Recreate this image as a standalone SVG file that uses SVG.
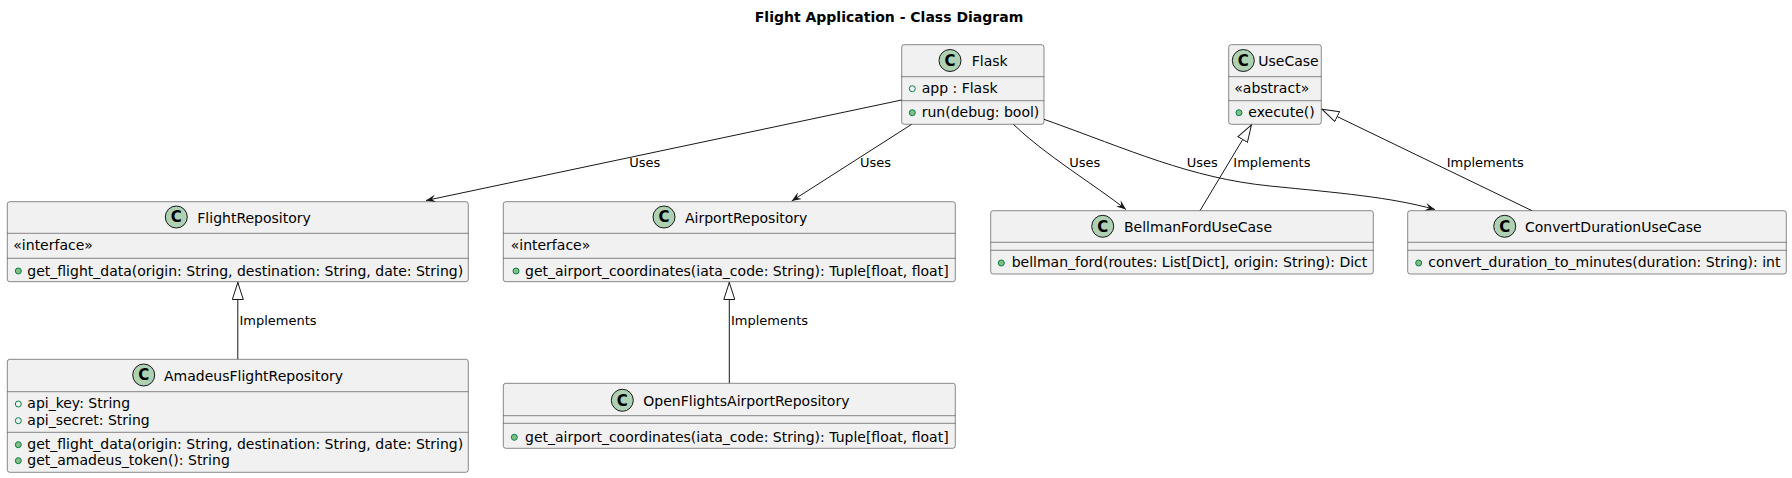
<svg xmlns="http://www.w3.org/2000/svg" width="1792" height="478" viewBox="0 0 1792 478">
<style>
text{font-family:"DejaVu Sans",sans-serif;fill:#000}
.t{font-size:14px;font-weight:bold}
.n{font-size:14px}
.m{font-size:14px}
.l{font-size:13px}
.c{font-size:15px;font-weight:bold;text-anchor:middle}
.box{fill:#F1F1F1;stroke:#181818;stroke-width:0.5}
.div{stroke:#181818;stroke-width:0.5}
.ic{fill:#ADD1B2;stroke:#181818;stroke-width:1}
.pm{fill:#84BE84;stroke:#038048;stroke-width:1}
.pf{fill:none;stroke:#038048;stroke-width:1}
.e{fill:none;stroke:#181818;stroke-width:1}
</style>
<defs>
<marker id="arr" viewBox="0 0 10 8" refX="10" refY="4" markerWidth="10" markerHeight="8" markerUnits="userSpaceOnUse" orient="auto"><path d="M0,0 L10,4 L0,8 L4,4 Z" fill="#181818"/></marker>
<marker id="tri" viewBox="0 0 18 12" refX="18" refY="6" markerWidth="18" markerHeight="12" markerUnits="userSpaceOnUse" orient="auto"><path d="M0.5,0.5 L17.5,6 L0.5,11.5 Z" fill="#FFFFFF" stroke="#181818" stroke-width="1"/></marker>
</defs>
<rect width="1792" height="478" fill="#FFFFFF"/>
<text class="t" x="889" y="22" text-anchor="middle">Flight Application - Class Diagram</text>

<g id="connectors">
<path class="e" d="M901.7,100 L426,200.5" marker-end="url(#arr)"/>
<path class="e" d="M911.7,124.3 L791.7,201" marker-end="url(#arr)"/>
<path class="e" d="M1013.3,124.3 C1045,155 1095,185 1126,209.5" marker-end="url(#arr)"/>
<path class="e" d="M1044,119.3 C1130,150 1190,178 1270,186 C1340,193 1390,197 1435,209.5" marker-end="url(#arr)"/>
<path class="e" d="M1200,210.7 L1251.7,124.5" marker-end="url(#tri)"/>
<path class="e" d="M1532,210.7 L1321.5,109" marker-end="url(#tri)"/>
<path class="e" d="M237.8,359.3 L237.8,282" marker-end="url(#tri)"/>
<path class="e" d="M729.3,383.3 L729.3,282" marker-end="url(#tri)"/>
<text class="l" x="629.3" y="167.3">Uses</text>
<text class="l" x="860" y="167.3">Uses</text>
<text class="l" x="1069.3" y="167.3">Uses</text>
<text class="l" x="1186.7" y="167.3">Uses</text>
<text class="l" x="1233.3" y="167.3">Implements</text>
<text class="l" x="1446.7" y="167.3">Implements</text>
<text class="l" x="239.5" y="325">Implements</text>
<text class="l" x="731" y="325">Implements</text>
</g>

<g id="Flask">
<rect class="box" x="901.7" y="44.7" width="142.3" height="79.6" rx="2.5"/>
<line class="div" x1="901.7" y1="76.7" x2="1044" y2="76.7"/>
<line class="div" x1="901.7" y1="100.7" x2="1044" y2="100.7"/>
<circle class="ic" cx="950" cy="60.5" r="11"/>
<text class="c" x="950" y="65.8">C</text>
<text class="n" x="971.7" y="65.5">Flask</text>
<circle class="pf" cx="912.3" cy="88.7" r="3"/>
<text class="m" x="921.7" y="93">app : Flask</text>
<circle class="pm" cx="912.3" cy="112.7" r="3"/>
<text class="m" x="921.7" y="117.3">run(debug: bool)</text>
</g>

<g id="UseCase">
<rect class="box" x="1228.7" y="44.7" width="92.6" height="79.6" rx="2.5"/>
<line class="div" x1="1228.7" y1="76.7" x2="1321.3" y2="76.7"/>
<line class="div" x1="1228.7" y1="100.7" x2="1321.3" y2="100.7"/>
<circle class="ic" cx="1243.3" cy="60.5" r="11"/>
<text class="c" x="1243.3" y="65.8">C</text>
<text class="n" x="1258.3" y="65.5">UseCase</text>
<text class="m" x="1234.3" y="93">«abstract»</text>
<circle class="pm" cx="1239" cy="112.7" r="3"/>
<text class="m" x="1248.3" y="117.3">execute()</text>
</g>

<g id="FlightRepository">
<rect class="box" x="7.3" y="201.7" width="461" height="80" rx="2.5"/>
<line class="div" x1="7.3" y1="233.3" x2="468.3" y2="233.3"/>
<line class="div" x1="7.3" y1="258.3" x2="468.3" y2="258.3"/>
<circle class="ic" cx="176.3" cy="217" r="11"/>
<text class="c" x="176.3" y="222.3">C</text>
<text class="n" x="197.3" y="222.5">FlightRepository</text>
<text class="m" x="13.3" y="250">«interface»</text>
<circle class="pm" cx="18.3" cy="271" r="3"/>
<text class="m" x="27.3" y="275.5">get_flight_data(origin: String, destination: String, date: String)</text>
</g>

<g id="AirportRepository">
<rect class="box" x="503.3" y="201.7" width="452" height="80" rx="2.5"/>
<line class="div" x1="503.3" y1="233.3" x2="955.3" y2="233.3"/>
<line class="div" x1="503.3" y1="258.3" x2="955.3" y2="258.3"/>
<circle class="ic" cx="664" cy="217" r="11"/>
<text class="c" x="664" y="222.3">C</text>
<text class="n" x="685" y="222.5">AirportRepository</text>
<text class="m" x="510.7" y="250">«interface»</text>
<circle class="pm" cx="516" cy="271" r="3"/>
<text class="m" x="525" y="275.5">get_airport_coordinates(iata_code: String): Tuple[float, float]</text>
</g>

<g id="BellmanFordUseCase">
<rect class="box" x="990.7" y="210.7" width="382.6" height="63.3" rx="2.5"/>
<line class="div" x1="990.7" y1="242.3" x2="1373.3" y2="242.3"/>
<line class="div" x1="990.7" y1="250.3" x2="1373.3" y2="250.3"/>
<circle class="ic" cx="1102.7" cy="226.3" r="11"/>
<text class="c" x="1102.7" y="231.6">C</text>
<text class="n" x="1124" y="231.5">BellmanFordUseCase</text>
<circle class="pm" cx="1001.3" cy="263" r="3"/>
<text class="m" x="1011.7" y="267.3">bellman_ford(routes: List[Dict], origin: String): Dict</text>
</g>

<g id="ConvertDurationUseCase">
<rect class="box" x="1407.7" y="210.7" width="378.6" height="63.3" rx="2.5"/>
<line class="div" x1="1407.7" y1="242.3" x2="1786.3" y2="242.3"/>
<line class="div" x1="1407.7" y1="250.3" x2="1786.3" y2="250.3"/>
<circle class="ic" cx="1504.7" cy="226.3" r="11"/>
<text class="c" x="1504.7" y="231.6">C</text>
<text class="n" x="1525" y="231.5">ConvertDurationUseCase</text>
<circle class="pm" cx="1418.7" cy="263" r="3"/>
<text class="m" x="1428.3" y="267.3">convert_duration_to_minutes(duration: String): int</text>
</g>

<g id="AmadeusFlightRepository">
<rect class="box" x="7.3" y="359.3" width="461" height="113" rx="2.5"/>
<line class="div" x1="7.3" y1="391.7" x2="468.3" y2="391.7"/>
<line class="div" x1="7.3" y1="432.3" x2="468.3" y2="432.3"/>
<circle class="ic" cx="143.7" cy="375" r="11"/>
<text class="c" x="143.7" y="380.3">C</text>
<text class="n" x="164" y="380.5">AmadeusFlightRepository</text>
<circle class="pf" cx="18.3" cy="404" r="3"/>
<text class="m" x="27.3" y="408">api_key: String</text>
<circle class="pf" cx="18.3" cy="420.7" r="3"/>
<text class="m" x="27.3" y="425">api_secret: String</text>
<circle class="pm" cx="18.3" cy="444.7" r="3"/>
<text class="m" x="27.3" y="449">get_flight_data(origin: String, destination: String, date: String)</text>
<circle class="pm" cx="18.3" cy="460.7" r="3"/>
<text class="m" x="27.3" y="465">get_amadeus_token(): String</text>
</g>

<g id="OpenFlightsAirportRepository">
<rect class="box" x="503.3" y="383.3" width="452" height="65" rx="2.5"/>
<line class="div" x1="503.3" y1="415.7" x2="955.3" y2="415.7"/>
<line class="div" x1="503.3" y1="423.3" x2="955.3" y2="423.3"/>
<circle class="ic" cx="622.3" cy="400.3" r="11"/>
<text class="c" x="622.3" y="405.6">C</text>
<text class="n" x="643.3" y="405.5">OpenFlightsAirportRepository</text>
<circle class="pm" cx="514.3" cy="437.3" r="3"/>
<text class="m" x="525" y="441.7">get_airport_coordinates(iata_code: String): Tuple[float, float]</text>
</g>
</svg>
